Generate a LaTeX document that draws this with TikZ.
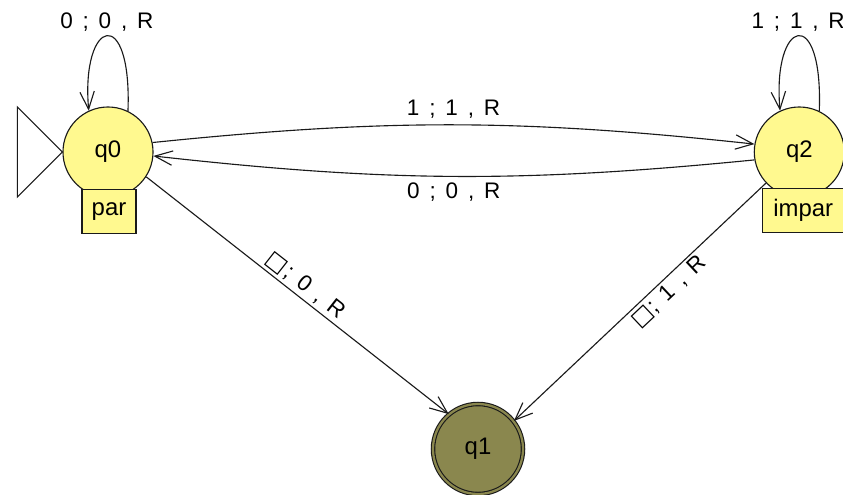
\documentclass[tikz,border=0pt]{standalone}
\usepackage{fontspec}
\setmainfont{Liberation Sans}
\newfontfamily\symfont{DejaVu Sans}
\usepackage{xcolor}
\definecolor{cState}{HTML}{FFF98F}
\definecolor{cFinal}{HTML}{8A874E}
\definecolor{cLine}{HTML}{1A1A1A}
\usepackage{tikz}
\usetikzlibrary{positioning,arrows.meta,calc}
\newcommand{\blank}{{\symfont\char"25A1}\kern1pt}
\newcommand{\lblfont}{\fontsize{16}{18}\selectfont\spaceskip=7pt plus 1pt\relax}
\tikzset{
  node-state/.style={draw=cLine,circle,fill=cState,minimum size=2.25cm,
    inner sep=0pt,font=\fontsize{17}{19}\selectfont},
  node-final/.style={node-state,fill=cFinal,double=cFinal,double distance=1.6pt},
  node-tag/.style={draw=cLine,fill=cState,minimum width=1.35cm,minimum height=1.1cm,
    inner sep=1pt,font=\fontsize{17}{19}\selectfont,anchor=north},
  arrow/.style={-{Straight Barb[length=4.4mm,width=3.6mm]},draw=cLine,line width=0.8pt},
  lbl/.style={font=\lblfont,inner sep=2pt},
}
\begin{document}
\begin{tikzpicture}[x=0.025cm,y=0.025cm,line width=0.8pt]
  \useasboundingbox (0,0) rectangle (843,-494);
  \node[node-state] (q0) at (108,-152) {q0};
  \node[node-state,right=15cm of q0] (q2) {q2};
  \node[node-final] (q1) at (478,-449) {q1};

  % start marker
  \draw[draw=cLine] (q0.west) -- ++(-45,45) -- ++(0,-90) -- cycle;

  % transitions
  \draw[arrow] (q0.12) to[bend left=6] node[lbl,above=2pt]{1 ; 1 , R} (q2.170);
  \draw[arrow] (q2.190) to[bend left=6] node[lbl,below=2pt]{0 ; 0 , R} (q0.-5);
  \draw[arrow] (q0.-33) -- node[lbl,sloped,above,pos=0.5]{\blank; 0 , R} (q1.130);
  \draw[arrow] (q2.223) -- node[lbl,sloped,below,pos=0.42]{\blank; 1 , R} (q1.38);

  % self loops
  \draw[arrow] (q0.64) .. controls +(4,108) and +(-8,92) .. node[lbl,above=1pt]{0 ; 0 , R} (q0.115);
  \draw[arrow] (q2.64) .. controls +(4,108) and +(-8,92) .. node[lbl,above=1pt]{1 ; 1 , R} (q2.115);

  % tags
  \node[node-tag,minimum width=1.35cm] (tag0) at ($(q0.south)+(1,9)$) {par};
  \node[node-tag,minimum width=2.05cm] (tag2) at ($(q2.south)+(4,10)$) {impar};
\end{tikzpicture}
\end{document}
